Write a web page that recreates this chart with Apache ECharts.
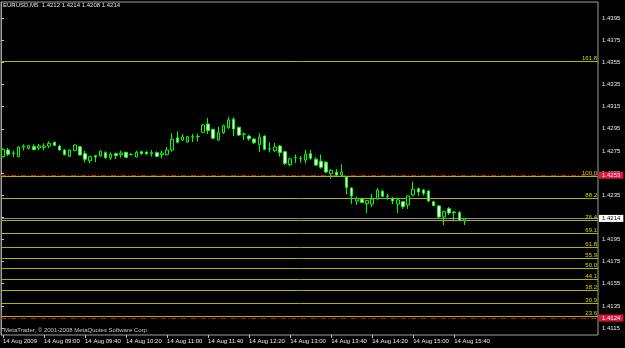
<!DOCTYPE html>
<html><head><meta charset="utf-8">
<script src="https://cdn.jsdelivr.net/npm/echarts@6/dist/echarts.min.js"></script>
<style>html,body{margin:0;padding:0;background:#000;}#c{width:625px;height:348px;}</style>
</head><body><div id="c"></div>
<script>
// ---- data ----
const opens = [1.42698,1.42758,1.42726,1.42698,1.42785,1.42773,1.42788,1.42776,1.42782,1.42794,
1.42827,1.42794,1.42758,1.42701,1.42755,1.42788,1.42725,1.42661,1.42707,1.42704,
1.42734,1.42688,1.42725,1.42716,1.42737,1.42716,1.42695,1.42743,1.42740,1.42725,
1.42734,1.42716,1.42716,1.42758,1.42867,1.42848,1.42830,1.42876,1.42879,1.42918,
1.42993,1.42945,1.42848,1.42914,1.42959,1.43035,1.42963,1.42900,1.42884,1.42857,
1.42806,1.42884,1.42767,1.42752,1.42794,1.42743,1.42625,1.42688,1.42681,1.42668,
1.42725,1.42674,1.42656,1.42648,1.42544,1.42557,1.42532,1.42514,1.42415,1.42297,
1.42315,1.42273,1.42269,1.42316,1.42385,1.42343,1.42319,1.42269,1.42291,1.42262,
1.42352,1.42409,1.42397,1.42388,1.42291,1.42253,1.42153,1.42228,1.42198,1.42192,1.4212];
const highs = [1.42772,1.42776,1.42752,1.42790,1.42809,1.42803,1.42809,1.42812,1.42818,1.42837,
1.42837,1.42806,1.42764,1.42763,1.42812,1.42794,1.42752,1.42704,1.42710,1.42754,
1.42746,1.42737,1.42734,1.42752,1.42740,1.42731,1.42752,1.42752,1.42744,1.42758,
1.42746,1.42752,1.42785,1.42912,1.42927,1.42903,1.42885,1.42903,1.42906,1.42993,
1.43047,1.42951,1.42969,1.42987,1.43059,1.43053,1.42968,1.42914,1.42896,1.42866,
1.42909,1.42891,1.42828,1.42821,1.42803,1.42752,1.42688,1.42719,1.42704,1.42758,
1.42761,1.42692,1.42717,1.42654,1.42586,1.42586,1.42629,1.42523,1.42421,1.42337,
1.42321,1.42307,1.42361,1.42415,1.42400,1.42361,1.42334,1.42328,1.42298,1.42346,
1.42472,1.42418,1.42406,1.42397,1.42298,1.42262,1.42210,1.42243,1.42207,1.42207,1.4214];
const lows = [1.42691,1.42704,1.42692,1.42695,1.42755,1.42764,1.42755,1.42758,1.42755,1.42776,
1.42794,1.42752,1.42710,1.42697,1.42746,1.42709,1.42643,1.42638,1.42649,1.42700,
1.42679,1.42668,1.42677,1.42688,1.42688,1.42710,1.42692,1.42716,1.42717,1.42698,
1.42692,1.42682,1.42710,1.42743,1.42818,1.42839,1.42826,1.42830,1.42836,1.42912,
1.42903,1.42855,1.42842,1.42903,1.42950,1.42884,1.42884,1.42848,1.42842,1.42812,
1.42740,1.42758,1.42737,1.42740,1.42698,1.42622,1.42613,1.42643,1.42643,1.42638,
1.42670,1.42613,1.42589,1.42548,1.42501,1.42514,1.42523,1.42358,1.42271,1.42262,
1.42280,1.42187,1.42244,1.42309,1.42334,1.42309,1.42269,1.42190,1.42226,1.42226,
1.42340,1.42343,1.42346,1.42289,1.42253,1.42141,1.42081,1.42171,1.42126,1.42117,1.4208];
const closes = [1.42764,1.42719,1.42731,1.42785,1.42794,1.42797,1.42761,1.42794,1.42794,1.42818,
1.42800,1.42758,1.42716,1.42758,1.42803,1.42713,1.42674,1.42698,1.42695,1.42749,
1.42688,1.42719,1.42707,1.42731,1.42692,1.42718,1.42737,1.42725,1.42722,1.42734,
1.42701,1.42731,1.42758,1.42855,1.42828,1.42876,1.42879,1.42879,1.42882,1.42984,
1.42933,1.42864,1.42914,1.42978,1.43029,1.42948,1.42893,1.42903,1.42860,1.42824,
1.42873,1.42764,1.42770,1.42785,1.42734,1.42638,1.42679,1.42690,1.42679,1.42722,
1.42683,1.42622,1.42602,1.42559,1.42575,1.42532,1.42559,1.42421,1.42343,1.42319,
1.42285,1.42301,1.42316,1.42397,1.42340,1.42340,1.42297,1.42307,1.42246,1.42343,
1.42403,1.42379,1.42367,1.42298,1.42255,1.42153,1.42201,1.42189,1.42192,1.42123,1.4214];
const xTickLabels = ['14 Aug 2009','14 Aug 09:00','14 Aug 09:40','14 Aug 10:20','14 Aug 11:00','14 Aug 11:40',
  '14 Aug 12:20','14 Aug 13:00','14 Aug 13:40','14 Aug 14:20','14 Aug 15:00','14 Aug 15:40'];
const yTickValues = [1.4115,1.4135,1.4155,1.4175,1.4195,1.4215,1.4235,1.4255,1.4275,1.4295,1.4315,1.4335,1.4355,1.4375,1.4395];
const fibLevels = ['161.8','100.0','88.2','76.4','69.1','61.8','55.9','50.0','44.1','38.2','30.9','23.6'];
const fibPrices = [1.43558,1.42519,1.42320,1.42121,1.42004,1.41877,1.41778,1.41688,1.41588,1.41489,1.41372,1.41254];
const redLinePrices = [1.4253, 1.4124];
const bidPrice = 1.4214;
const header = 'EURUSD,M5  1.4212 1.4214 1.4208 1.4214';
const copyright = 'MetaTrader, \u00a9 2001-2008 MetaQuotes Software Corp.';

// ---- build ----
const N = opens.length, PAD = 26;
const cats = [];
for (let i = 0; i < N + PAD; i++) {
  if (i < N) { const m = 8*60 + 20 + 5*i; cats.push(String(Math.floor(m/60)).padStart(2,'0') + ':' + String(m%60).padStart(2,'0')); }
  else cats.push('p' + i);
}
const candleData = opens.map((o, i) => [o, closes[i], lows[i], highs[i]]);
const YMIN = 1.41087, YMAX = 1.44095;
const FONT = 'Liberation Sans';
const marks = [];
fibLevels.forEach((lv, i) => marks.push({
  yAxis: fibPrices[i],
  lineStyle: { color: '#b4b400', width: 1, type: 'solid' },
  label: { show: true, formatter: lv, position: 'insideEndTop', distance: [1, 0], color: '#d8d800', fontSize: 6, fontFamily: FONT }
}));
redLinePrices.forEach(p => marks.push({
  yAxis: p,
  lineStyle: { color: '#c01818', width: 1, type: [5, 2, 1, 2] },
  label: { show: true, position: 'end', distance: 1, formatter: p.toFixed(4), color: '#ffffff', backgroundColor: '#e0143c', padding: [1, 3, 0, 3], fontSize: 6, fontFamily: FONT }
}));
marks.push({
  yAxis: bidPrice,
  lineStyle: { color: '#8a8a9a', width: 1, type: 'solid' },
  label: { show: true, position: 'end', distance: 1, formatter: bidPrice.toFixed(4), color: '#000000', backgroundColor: '#ffffff', padding: [1, 3, 0, 3], fontSize: 6, fontFamily: FONT }
});

const chart = echarts.init(document.getElementById('c'), null, { renderer: 'canvas' });
chart.setOption({
  backgroundColor: '#000000',
  animation: false,
  title: [
    { text: header, left: 3, top: 2.5, padding: 0, textStyle: { color: '#e0e0e0', fontSize: 6, fontWeight: 'normal', fontFamily: FONT } },
    { text: copyright, left: 4, top: 327.5, padding: 0, textStyle: { color: '#c8c8c8', fontSize: 6, fontWeight: 'normal', fontFamily: FONT } }
  ],
  grid: [
    { left: 0.14, right: 24.66, top: 2, bottom: 13, show: false },
    { left: 1, right: 27, top: 2, bottom: 13, show: true, borderColor: '#a0a0a0', borderWidth: 1, backgroundColor: 'transparent' }
  ],
  xAxis: [
    { type: 'category', gridIndex: 0, data: cats, boundaryGap: true,
      axisLine: { show: false },
      axisTick: { show: true, alignWithLabel: true, length: 3, interval: (i) => i % 8 === 0 && i < N, lineStyle: { color: '#c0c0c0' } },
      axisLabel: { show: true, interval: (i) => i % 8 === 0 && i < N, formatter: (v, i) => xTickLabels[i / 8], align: 'left', margin: 3,
        color: '#e8e8e8', fontSize: 6, fontFamily: FONT },
      splitLine: { show: false } },
    { type: 'value', gridIndex: 1, min: 0, max: 1, show: false }
  ],
  yAxis: [
    { type: 'value', gridIndex: 0, min: YMIN, max: YMAX, show: false, scale: true },
    { type: 'value', gridIndex: 1, min: YMIN, max: YMAX, position: 'right', scale: true,
      axisLine: { show: true, lineStyle: { color: '#a0a0a0' } },
      axisTick: { show: true, length: 3, inside: false, customValues: yTickValues, lineStyle: { color: '#c0c0c0' } },
      axisLabel: { show: true, customValues: yTickValues, formatter: v => v.toFixed(4), margin: 4, color: '#e8e8e8', fontSize: 6, fontFamily: FONT },
      splitLine: { show: false } }
  ],
  series: [
    { type: 'line', xAxisIndex: 1, yAxisIndex: 1, data: [], silent: true, z: 1,
      markLine: { silent: true, precision: 6, symbol: ['none', 'none'], animation: false, data: marks } },
    { type: 'candlestick', xAxisIndex: 0, yAxisIndex: 0, data: candleData, barWidth: 3, z: 5,
      itemStyle: { color: '#000000', color0: '#ffffff', borderColor: '#00ff00', borderColor0: '#00ff00', borderColorDoji: '#00ff00', borderWidth: 1 } }
  ]
});
</script></body></html>
